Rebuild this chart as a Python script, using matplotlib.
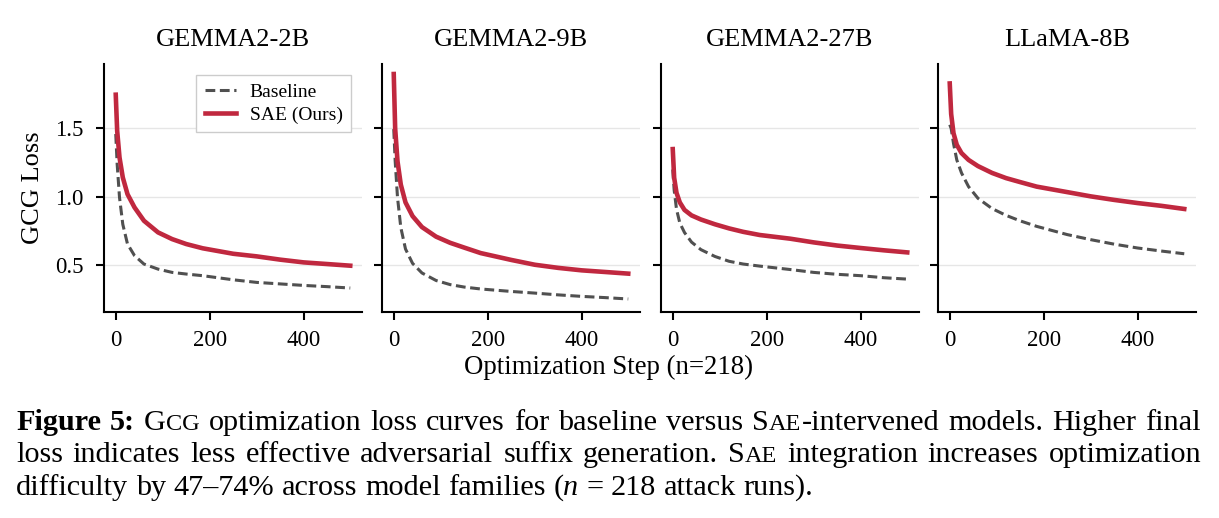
import matplotlib
matplotlib.use('Agg')
import matplotlib.pyplot as plt

plt.rcParams['font.family'] = ['Liberation Serif', 'DejaVu Serif']

steps = [0, 3, 8, 15, 25, 40, 60, 90, 120, 150, 185, 250, 300, 350, 400, 450, 499]

models = ['GEMMA2-2B', 'GEMMA2-9B', 'GEMMA2-27B', 'LLaMA-8B']

baseline_2b = [1.459, 1.24, 0.996, 0.80, 0.656, 0.571, 0.51, 0.473, 0.449, 0.437, 0.425,
               0.395, 0.376, 0.365, 0.354, 0.345, 0.335]
sae_2b = [1.746, 1.483, 1.288, 1.142, 1.02, 0.923, 0.826, 0.741, 0.692, 0.656, 0.625,
          0.585, 0.566, 0.542, 0.522, 0.51, 0.498]

baseline_9b = [1.495, 1.264, 0.996, 0.777, 0.62, 0.515, 0.445, 0.39, 0.36, 0.342, 0.328,
               0.31, 0.298, 0.285, 0.274, 0.265, 0.255]
sae_9b = [1.897, 1.50, 1.26, 1.09, 0.96, 0.86, 0.78, 0.71, 0.665, 0.63, 0.59,
          0.54, 0.505, 0.482, 0.464, 0.452, 0.44]

baseline_27b = [1.20, 1.05, 0.91, 0.81, 0.74, 0.67, 0.615, 0.565, 0.53, 0.51, 0.495,
                0.47, 0.449, 0.435, 0.425, 0.41, 0.40]
sae_27b = [1.349, 1.14, 1.03, 0.96, 0.905, 0.865, 0.835, 0.80, 0.77, 0.745, 0.722,
           0.695, 0.668, 0.645, 0.627, 0.61, 0.595]

baseline_8b = [1.527, 1.50, 1.39, 1.27, 1.175, 1.075, 0.99, 0.915, 0.865, 0.825, 0.785,
               0.725, 0.688, 0.655, 0.627, 0.605, 0.585]
sae_8b = [1.828, 1.605, 1.465, 1.38, 1.32, 1.27, 1.225, 1.175, 1.137, 1.108, 1.075,
          1.035, 1.004, 0.978, 0.955, 0.935, 0.912]

baselines = [baseline_2b, baseline_9b, baseline_27b, baseline_8b]
saes = [sae_2b, sae_9b, sae_27b, sae_8b]

W, H = 1219, 518
fig = plt.figure(figsize=(W / 100, H / 100), dpi=100)

lefts = [104, 382, 661, 938]
ax_w, ax_top, ax_bot = 258, 64, 312

axes = []
for i, left in enumerate(lefts):
    ax = fig.add_axes([left / W, (H - ax_bot) / H, ax_w / W, (ax_bot - ax_top) / H],
                      sharey=axes[0] if axes else None)
    ax.plot(steps, baselines[i], ls=(0, (3.2, 1.5)), color='#505050', lw=2.2, label='Baseline')
    ax.plot(steps, saes[i], color='#C0283F', lw=3.3, label='SAE (Ours)',
            solid_joinstyle='round')
    ax.set_xlim(-25, 524)
    ax.set_ylim(0.16, 1.97)
    ax.set_xticks([0, 200, 400])
    ax.set_yticks([0.5, 1.0, 1.5])
    ax.grid(axis='y', color='#e6e6e6', lw=1)
    ax.set_axisbelow(True)
    for s in ['top', 'right']:
        ax.spines[s].set_visible(False)
    for s in ['left', 'bottom']:
        ax.spines[s].set_linewidth(1.5)
    ax.tick_params(width=1.5, length=6, labelsize=16.5)
    ax.tick_params(axis='x', pad=7)
    ax.tick_params(axis='y', pad=9)
    if i > 0:
        ax.tick_params(axis='y', labelleft=False)
    ax.set_title(models[i], fontsize=19, pad=13)
    axes.append(ax)

axes[0].legend(loc='upper right', fancybox=False, edgecolor='#cccccc', framealpha=1,
               fontsize=14, handlelength=1.6, handletextpad=0.7, labelspacing=0.25,
               borderpad=0.45, borderaxespad=0.55)

fig.text(608 / W, 1 - 367 / H, 'Optimization Step (n=218)', ha='center', va='center', fontsize=19.3)
fig.text(33 / W, 1 - 188 / H, 'GCG Loss', ha='center', va='center', rotation=90, fontsize=19)

# caption, justified like the paper text
cap_size = 21.8
renderer = fig.canvas.get_renderer()


def measure(s, fs, fw='normal', st='normal'):
    t = fig.text(0, 0, s, fontsize=fs, fontweight=fw, fontstyle=st)
    w = t.get_window_extent(renderer).width
    t.remove()
    return w


def seg(text, scale=1.0, weight='normal', style='normal'):
    return (text, cap_size * scale, weight, style)


SC = 0.8
line1 = [[seg('Figure', weight='bold')], [seg('5:', weight='bold')],
         [seg('G'), seg('CG', SC)], [seg('optimization')], [seg('loss')], [seg('curves')],
         [seg('for')], [seg('baseline')], [seg('versus')],
         [seg('S'), seg('AE', SC), seg('-intervened')], [seg('models.')],
         [seg('Higher')], [seg('final')]]
line2 = [[seg('loss')], [seg('indicates')], [seg('less')], [seg('effective')],
         [seg('adversarial')], [seg('suffix')], [seg('generation.')],
         [seg('S'), seg('AE', SC)], [seg('integration')], [seg('increases')],
         [seg('optimization')]]
line3 = [[seg('difficulty')], [seg('by')], [seg('47–74%')], [seg('across')],
         [seg('model')], [seg('families')], [seg('('), seg('n', style='italic')],
         [seg('=')], [seg('218')], [seg('attack')], [seg('runs).')]]

x0, x1 = 16, 1201
space_w = measure('x x', cap_size) - measure('xx', cap_size)


def draw_line(words, baseline_px, justify):
    seg_w = [[measure(t, fs, fw, st) for (t, fs, fw, st) in w] for w in words]
    word_w = [sum(s) for s in seg_w]
    if justify:
        gap = (x1 - x0 - sum(word_w)) / (len(words) - 1)
    else:
        gap = space_w
    x = x0
    for w, sw in zip(words, seg_w):
        for (t, fs, fw, st), wd in zip(w, sw):
            fig.text(x / W, 1 - baseline_px / H, t, fontsize=fs, fontweight=fw,
                     fontstyle=st, ha='left', va='baseline')
            x += wd
        x += gap


draw_line(line1, 430, True)
draw_line(line2, 462, True)
draw_line(line3, 495, False)

fig.savefig('out.png', dpi=100)
